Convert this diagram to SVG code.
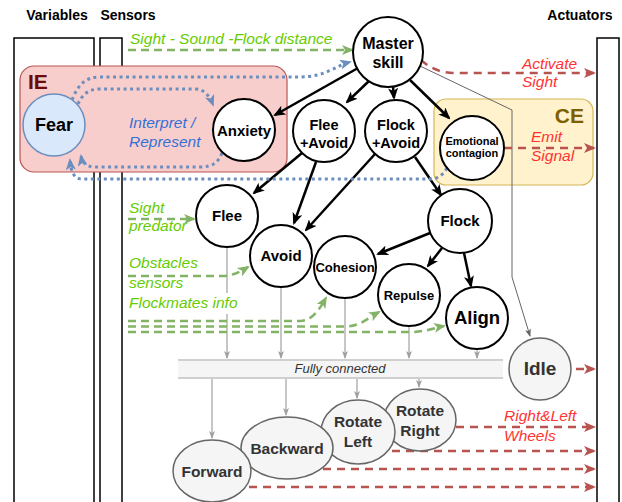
<svg xmlns="http://www.w3.org/2000/svg" width="622" height="502" viewBox="0 0 622 502">
<style>
.col{fill:#fff;stroke:#000;stroke-width:1.5}
.hd{font-family:"Liberation Sans",Arial,sans-serif;font-weight:bold;font-size:14px;text-anchor:middle;fill:#000}
.n{fill:#fff;stroke:#000;stroke-width:2}
.g{fill:#f5f5f5;stroke:#666;stroke-width:1.5}
.nt{font-family:"Liberation Sans",Arial,sans-serif;font-weight:bold;text-anchor:middle;fill:#000}
.gt{font-family:"Liberation Sans",Arial,sans-serif;font-weight:bold;text-anchor:middle;fill:#333;font-size:15.5px}
.it{font-family:"Liberation Sans",Arial,sans-serif;font-style:italic;font-size:15.5px}
.grt{fill:#66cc00}
.rdt{fill:#ff3333}
.blt{fill:#3370d6}
.blk{fill:none;stroke:#000;stroke-width:2.5;marker-end:url(#mb)}
.grn{fill:none;stroke:#82b366;stroke-width:2.5;stroke-dasharray:8 5;marker-end:url(#mg)}
.grn0{fill:none;stroke:#82b366;stroke-width:2.5;stroke-dasharray:8 5}
.red{fill:none;stroke:#b85450;stroke-width:2.5;stroke-dasharray:8 6;marker-end:url(#mr)}
.blu{fill:none;stroke:#6c8ebf;stroke-width:3;stroke-dasharray:3 3.5;marker-end:url(#mbl)}
.gry{fill:none;stroke:#a0a0a0;stroke-width:1.2;marker-end:url(#mgy)}
.gry2{fill:none;stroke:#666;stroke-width:1;marker-end:url(#mgy2)}
</style>
<defs>
<marker id="mb" viewBox="0 0 12 10" refX="10" refY="5" markerWidth="12" markerHeight="10" markerUnits="userSpaceOnUse" orient="auto"><path d="M0,0 L12,5 L0,10 L3,5 z" fill="#000"/></marker>
<marker id="mg" viewBox="0 0 12 10" refX="10" refY="5" markerWidth="12" markerHeight="10" markerUnits="userSpaceOnUse" orient="auto"><path d="M0,0 L12,5 L0,10 L3,5 z" fill="#82b366"/></marker>
<marker id="mr" viewBox="0 0 12 10" refX="10" refY="5" markerWidth="12" markerHeight="10" markerUnits="userSpaceOnUse" orient="auto"><path d="M0,0 L12,5 L0,10 L3,5 z" fill="#b85450"/></marker>
<marker id="mbl" viewBox="0 0 12 10" refX="10" refY="5" markerWidth="12" markerHeight="10" markerUnits="userSpaceOnUse" orient="auto"><path d="M0,0 L12,5 L0,10 L3,5 z" fill="#6c8ebf"/></marker>
<marker id="mgy" viewBox="0 0 8 6" refX="7" refY="3" markerWidth="8" markerHeight="6" markerUnits="userSpaceOnUse" orient="auto"><path d="M0,0 L8,3 L0,6 L2,3 z" fill="#a0a0a0"/></marker>
<marker id="mgy2" viewBox="0 0 8 6" refX="7" refY="3" markerWidth="8" markerHeight="6" markerUnits="userSpaceOnUse" orient="auto"><path d="M0,0 L8,3 L0,6 L2,3 z" fill="#666"/></marker>
</defs>
<rect width="622" height="502" fill="#fff"/>
<g id="columns">
<rect class="col" x="14" y="38" width="80" height="480"/>
<rect class="col" x="100" y="38" width="22" height="480"/>
<rect class="col" x="597" y="38" width="22" height="480"/>
<text class="hd" x="57" y="20">Variables</text>
<text class="hd" x="128" y="20">Sensors</text>
<text class="hd" x="580" y="20">Actuators</text>
</g>
<g id="IE">
<rect x="20" y="66" width="267" height="106" rx="14" fill="#f8cecc" stroke="#b85450" stroke-width="1.2"/>
<text x="28" y="89" font-family="Liberation Sans, Arial, sans-serif" font-weight="bold" font-size="21" fill="#6b0a0a">IE</text>
</g>
<g id="CE">
<rect x="434" y="99" width="159" height="86" rx="12" fill="#fff2cc" stroke="#d6b656" stroke-width="1.2"/>
<text x="584" y="123" text-anchor="end" font-family="Liberation Sans, Arial, sans-serif" font-weight="bold" font-size="21" fill="#7f6000">CE</text>
</g>
<g id="bar">
<rect x="178" y="360" width="325" height="18" fill="#f5f5f5"/>
<line x1="178" y1="360" x2="503" y2="360" stroke="#d0d0d0" stroke-width="2"/>
<line x1="178" y1="378" x2="503" y2="378" stroke="#d0d0d0" stroke-width="2"/>
<text class="it" x="340" y="373" text-anchor="middle" font-size="13" style="font-size:13px" fill="#333">Fully connected</text>
</g>
<g id="connectors">
<path class="gry" d="M227,247 L227,358"/>
<path class="gry" d="M281,287 L281,358"/>
<path class="gry" d="M345,298 L345,358"/>
<path class="gry" d="M409,326 L409,358"/>
<path class="gry" d="M477,349 L477,358"/>
<path class="gry" d="M212,379 L212,438"/>
<path class="gry" d="M286,379 L286,415"/>
<path class="gry" d="M357,379 L357,398"/>
<path class="gry" d="M419,379 L419,387"/>
<path class="gry2" d="M420,66 L512,110 L512,277 L530,336"/>
<path class="blk" d="M358,68 L275,115"/>
<path class="blk" d="M369,81 L347,102"/>
<path class="blk" d="M393,87 L394,98"/>
<path class="blk" d="M410,80 L449,118"/>
<path class="blk" d="M302,153 L254,193"/>
<path class="blk" d="M316,162 L294,223"/>
<path class="blk" d="M375,154 L306,230"/>
<path class="blk" d="M415,157 L441,195"/>
<path class="blk" d="M430,233 L378,254"/>
<path class="blk" d="M442,248 L428,266"/>
<path class="blk" d="M464,253 L471,286"/>
<path class="blu" d="M72,100 C78,85 85,77 100,77 L300,77 C325,77 335,66 350,62"/>
<path class="blu" d="M78,104 C82,95 88,89 100,89 L195,89 C205,89 210,97 213,105"/>
<path class="blu" d="M222,153 C218,163 212,167 200,167 L95,167 C86,167 82,162 81,156"/>
<path class="blu" d="M447,168 C443,175 438,179 430,179 L82,179 C74,179 71,172 70,160"/>
<path class="grn" d="M128,50 L352,50"/>
<path class="grn" d="M128,219 L194,219"/>
<path class="grn" d="M128,276 L222,276 C232,276 240,272 248,267"/>
<path class="grn" d="M128,321 L300,321 C312,321 319,310 326,298"/>
<path class="grn" d="M128,326.5 L345,326.5 C360,326.5 368,318 379,312"/>
<path class="grn" d="M128,332 L410,332 C425,332 434,328 444,326"/>
<path class="red" d="M421,60 C430,68 440,73 455,73 L594,73"/>
<path class="red" d="M504,148 L594,148"/>
<path class="red" d="M576,369 L594,369"/>
<path class="red" d="M456,427 L594,427"/>
<path class="red" d="M392,451 L594,451"/>
<path class="red" d="M323,469 L594,469"/>
<path class="red" d="M249,487 L594,487"/>
</g>
<g id="labels">
<text class="it grt" x="130" y="44">Sight - Sound -Flock distance</text>
<text class="it grt" x="129" y="213">Sight</text>
<text class="it grt" x="129" y="231">predator</text>
<text class="it grt" x="129" y="268">Obstacles</text>
<text class="it grt" x="129" y="288">sensors</text>
<rect x="128" y="293" width="112" height="21" fill="#fff"/>
<text class="it grt" x="129" y="308">Flockmates info</text>
<text class="it blt" x="129" y="128">Interpret /</text>
<text class="it blt" x="129" y="147">Represent</text>
<text class="it rdt" x="522" y="69">Activate</text>
<text class="it rdt" x="522" y="87">Sight</text>
<text class="it rdt" x="531" y="142">Emit</text>
<text class="it rdt" x="531" y="161">Signal</text>
<text class="it rdt" x="504" y="421">Right&amp;Left</text>
<text class="it rdt" x="504" y="441">Wheels</text>
</g>
<g id="fear"><circle cx="54" cy="125" r="31" fill="#dae8fc" stroke="#6c8ebf" stroke-width="1.5"/><text class="nt" x="54" y="131" font-size="18">Fear</text></g>
<g id="anxiety"><circle class="n" cx="244" cy="130" r="31"/><text class="nt" x="244" y="136" font-size="15">Anxiety</text></g>
<g id="master"><circle class="n" cx="388" cy="52" r="35"/><text class="nt" x="388" y="49" font-size="16">Master</text><text class="nt" x="388" y="68" font-size="16">skill</text></g>
<g id="fleeavoid"><circle class="n" cx="324" cy="131" r="31"/><text class="nt" x="324" y="130" font-size="14.5">Flee</text><text class="nt" x="324" y="148" font-size="14.5">+Avoid</text></g>
<g id="flockavoid"><circle class="n" cx="396" cy="131" r="31"/><text class="nt" x="396" y="130" font-size="14.5">Flock</text><text class="nt" x="396" y="148" font-size="14.5">+Avoid</text></g>
<g id="emotional"><circle class="n" cx="472" cy="148" r="32"/><text class="nt" x="472" y="145" font-size="11">Emotional</text><text class="nt" x="472" y="157" font-size="11">contagion</text></g>
<g id="flee"><circle class="n" cx="227" cy="216" r="31"/><text class="nt" x="227" y="221" font-size="15">Flee</text></g>
<g id="avoid"><circle class="n" cx="281" cy="256" r="31"/><text class="nt" x="281" y="261" font-size="15">Avoid</text></g>
<g id="cohesion"><circle class="n" cx="345" cy="267" r="31"/><text class="nt" x="345" y="272" font-size="13">Cohesion</text></g>
<g id="flock"><circle class="n" cx="460" cy="221" r="32"/><text class="nt" x="460" y="226" font-size="15">Flock</text></g>
<g id="repulse"><circle class="n" cx="409" cy="295" r="31"/><text class="nt" x="409" y="300" font-size="13">Repulse</text></g>
<g id="align"><circle class="n" cx="477" cy="318" r="31"/><text class="nt" x="477" y="324" font-size="18.5">Align</text></g>
<g id="idle"><circle class="g" cx="540" cy="369" r="31"/><text class="gt" x="540" y="375" style="font-size:19px">Idle</text></g>
<g id="rotateright"><ellipse class="g" cx="420" cy="420" rx="36" ry="31"/><text class="gt" x="420" y="416">Rotate</text><text class="gt" x="420" y="436">Right</text></g>
<g id="rotateleft"><ellipse class="g" cx="358" cy="432" rx="37" ry="32"/><text class="gt" x="358" y="427">Rotate</text><text class="gt" x="358" y="447">Left</text></g>
<g id="backward"><ellipse class="g" cx="287" cy="448" rx="46" ry="31"/><text class="gt" x="287" y="454">Backward</text></g>
<g id="forward"><ellipse class="g" cx="212" cy="471" rx="39" ry="31"/><text class="gt" x="212" y="477">Forward</text></g>
</svg>
